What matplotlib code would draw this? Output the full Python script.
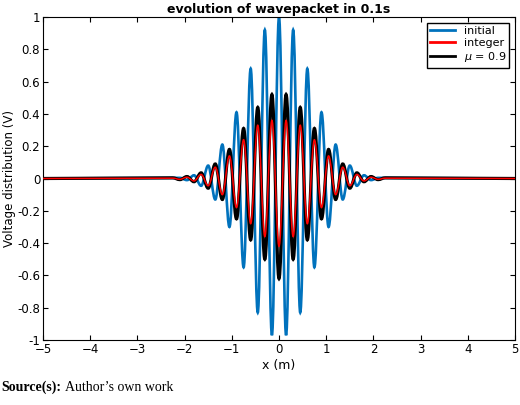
import matplotlib
matplotlib.use("Agg")
import matplotlib.pyplot as plt
from matplotlib.path import Path
from matplotlib.patches import PathPatch
from matplotlib.lines import Line2D
import numpy as np

# extrema spacing (half period, m)
STEP = 0.15
# extremum values for x >= 0 (mirrored for x < 0)
initial_half = [1.0, -0.97, 0.92, -0.83, 0.68, -0.55, 0.41, -0.30, 0.21,
                -0.13, 0.08, -0.045, 0.02, -0.01, 0.004]
integer_half = [-0.42, 0.36, -0.36, 0.33, -0.28, 0.24, -0.18, 0.14, -0.10,
                0.07, -0.045, 0.025, -0.015, 0.008, -0.005, 0.002]
mu09_half = [-0.62, 0.52, -0.50, 0.44, -0.38, 0.31, -0.25, 0.18, -0.13,
             0.09, -0.06, 0.035, -0.02, 0.012, -0.007, 0.004]

X_LIM = (-5, 5)
Y_LIM = (-1, 1)


def full_series(half):
    vals = list(half[:0:-1]) + list(half)
    n = len(half) - 1
    xs = [STEP * k for k in range(-n, n + 1)]
    return [X_LIM[0]] + xs + [X_LIM[1]], [0.0] + vals + [0.0]


def smooth_path(xs, ys):
    # cubic segments with flat tangents at each extremum
    verts = [(xs[0], ys[0])]
    codes = [Path.MOVETO]
    for x0, y0, x1, y1 in zip(xs[:-1], ys[:-1], xs[1:], ys[1:]):
        dx = x1 - x0
        c = 0.3642 * dx if dx < 1 else 0.36 * STEP
        verts += [(x0 + c, y0), (x1 - c, y1), (x1, y1)]
        codes += [Path.CURVE4] * 3
    return Path(verts, codes)


fig = plt.figure(figsize=(5.2, 4.05), dpi=100)
ax = fig.add_axes([43 / 520, 65 / 405, 472 / 520, 323 / 405])

series = [
    (initial_half, "#0072BD", 1.9, 2),
    (mu09_half, "black", 2.3, 3),
    (integer_half, "red", 1.1, 4),
]
for half, color, lw, z in series:
    xs, ys = full_series(half)
    ax.add_patch(PathPatch(smooth_path(xs, ys), facecolor="none",
                           edgecolor=color, lw=lw, zorder=z))

ax.set_xlim(*X_LIM)
ax.set_ylim(*Y_LIM)
ax.set_xticks(np.arange(-5, 6, 1))
ax.set_yticks(np.arange(-1, 1.01, 0.2))
ax.set_yticklabels(["-1", "-0.8", "-0.6", "-0.4", "-0.2", "0", "0.2",
                    "0.4", "0.6", "0.8", "1"])
ax.tick_params(direction="in", top=True, right=True, labelsize=8.5, pad=2)
ax.set_xlabel("x (m)", fontsize=9, labelpad=2)
ax.set_ylabel("Voltage distribution (V)", fontsize=8.5, labelpad=1)
ax.set_title("evolution of wavepacket in 0.1s", fontsize=9,
             fontweight="bold", pad=3)

handles = [Line2D([], [], color="#0072BD", lw=2),
           Line2D([], [], color="red", lw=2),
           Line2D([], [], color="black", lw=2)]
ax.legend(handles, ["initial", "integer", r"$\mu$ = 0.9"], loc="upper right",
          fontsize=8, fancybox=False, edgecolor="black", framealpha=1,
          handlelength=2.2, borderpad=0.3, labelspacing=0.2)

fig.text(0.002, 0.035, "Source(s):", fontsize=10, fontweight="bold",
         family="Liberation Serif")
fig.text(0.125, 0.035, "Author\u2019s own work", fontsize=10,
         family="Liberation Serif")

fig.savefig("out.png", dpi=100)
